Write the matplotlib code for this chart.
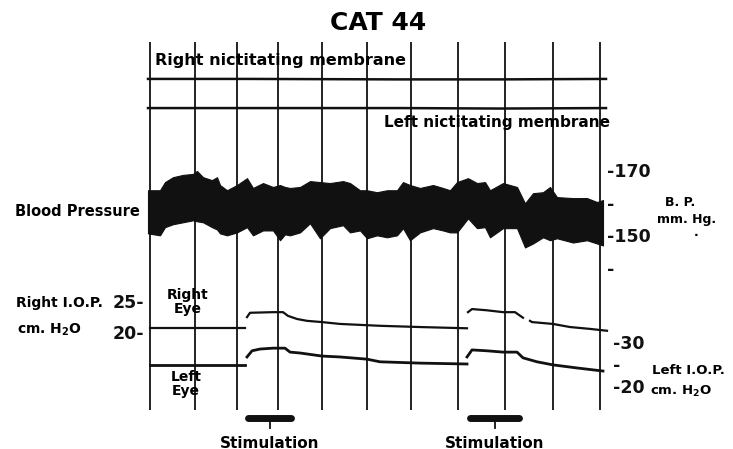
import numpy as np
import matplotlib.pyplot as plt

# chart time is in recorder units (0 = left edge of the record, 450 = right edge)
grid_t = [0, 45, 87, 128, 172, 217, 261, 308, 355, 403, 450]

# nictitating membranes (arbitrary units, flat during the whole record)
nm_t = [-2, 100, 250, 350, 456]
right_nm = [8.1, 8.1, 8.0, 8.0, 8.1]
left_nm = [1.9, 1.9, 1.9, 1.8, 1.9]

# blood pressure envelope, mm Hg
bp_t = [-2, 10, 15, 23, 33, 43, 47, 53, 62, 67, 70, 77, 87, 97, 103, 113, 123, 130,
        135, 140, 150, 160, 170, 180, 193, 200, 210, 217, 227, 237, 247, 253, 260, 270,
        283, 293, 300, 307, 318, 327, 335, 340, 353, 367, 375, 383, 393, 400, 407, 423,
        437, 447, 453]
bp_upper = [163.8, 163.8, 166.3, 167.8, 168.5, 168.8, 169.7, 167.8, 166.9, 167.8, 165.4,
            163.8, 165.4, 167.5, 164.5, 166.0, 164.8, 165.4, 164.8, 164.5, 164.8, 166.6,
            166.3, 166.0, 166.6, 166.0, 163.8, 163.8, 163.2, 163.8, 163.8, 166.3, 165.4,
            164.5, 165.4, 164.5, 163.8, 166.3, 167.5, 166.0, 166.3, 163.8, 166.0, 164.8,
            159.8, 162.9, 163.2, 164.8, 161.7, 161.4, 161.4, 160.2, 160.8]
bp_lower = [150.6, 150.0, 152.5, 153.4, 154.0, 154.6, 154.3, 154.0, 152.5, 151.8, 150.6,
            150.0, 150.9, 152.5, 150.0, 151.5, 151.5, 148.5, 150.3, 150.0, 150.9, 153.7,
            149.1, 152.2, 153.1, 150.9, 151.5, 149.1, 150.0, 149.4, 150.0, 152.2, 148.5,
            150.9, 152.2, 151.5, 150.9, 150.9, 155.2, 152.2, 152.5, 149.4, 152.2, 152.2,
            146.3, 147.5, 149.4, 148.5, 149.1, 147.8, 148.5, 147.5, 146.9]

# right eye I.O.P. (cm H2O, left scale), pieces of record
re_t = [[0, 50, 95],
        [97, 100, 123, 133, 138, 147, 157, 172, 190, 230, 270, 317],
        [318, 322, 337, 353, 365, 373],
        [380, 382, 403, 420, 440, 457]]
re_iop = [[20.6, 20.6, 20.6],
          [22.4, 23.1, 23.2, 23.2, 22.6, 22.1, 21.8, 21.6, 21.3, 21.0, 20.8, 20.6],
          [23.2, 23.7, 23.5, 23.2, 23.2, 22.3],
          [21.8, 21.6, 21.3, 20.8, 20.5, 20.2]]

# left eye I.O.P. (cm H2O, right scale)
le_t = [[0, 50, 95],
        [97, 102, 110, 123, 135, 140, 150, 172, 190, 217, 230, 270, 317],
        [317, 322, 337, 353, 367, 373, 387, 403, 427, 453]]
le_iop = [[24.8, 24.8, 24.8],
          [26.6, 28.0, 28.4, 28.6, 28.6, 27.7, 27.5, 26.8, 26.6, 26.1, 25.5, 25.2, 25.0],
          [26.6, 28.2, 28.0, 27.7, 27.7, 26.4, 25.5, 24.8, 24.1, 23.4]]

# stimulation periods
stim_on = [98, 320]
stim_off = [141, 369]

W, H = 733, 449
ink = '#111111'
plt.rcParams['font.family'] = 'DejaVu Sans'
plt.rcParams['font.weight'] = 'bold'


def rect(x0, y0, x1, y1):
    return [x0 / W, 1 - y1 / H, (x1 - x0) / W, (y1 - y0) / H]


fig = plt.figure(figsize=(W / 100, H / 100), dpi=100)
fig.patch.set_facecolor('white')

# layout canvas in pixel units, x shifted so that record time lines up
ax0 = fig.add_axes([0, 0, 1, 1])
ax0.set_xlim(-150, W - 150)
ax0.set_ylim(H, 0)
ax0.axis('off')

ax0.vlines(grid_t, 42, 410, color=ink, lw=1.3)

for on, off in zip(stim_on, stim_off):
    ax0.plot([on, off], [418, 418], color=ink, lw=5, solid_capstyle='round')
    ax0.plot([(on + off) / 2] * 2, [418, 428], color=ink, lw=1.3)
    ax0.text((on + off) / 2, 443, 'Stimulation', ha='center', va='center', fontsize=11)

ax0.text(228, 23, 'CAT 44', ha='center', va='center', fontsize=18)
ax0.text(5, 60, 'Right nictitating membrane', ha='left', va='center', fontsize=11.5)
ax0.text(460, 122, 'Left nictitating membrane', ha='right', va='center', fontsize=11)
ax0.text(-10, 212, 'Blood Pressure', ha='right', va='center', fontsize=10.5)
ax0.text(530, 203, 'B. P.', ha='center', va='center', fontsize=9)
ax0.text(537, 219, 'mm. Hg.', ha='center', va='center', fontsize=9)
ax0.text(546, 232, '.', ha='center', va='center', fontsize=9)
ax0.text(-47, 303, 'Right I.O.P.', ha='right', va='center', fontsize=10)
ax0.text(-68, 330, r'cm. H$_\mathbf{2}$O', ha='right', va='center', fontsize=10)
ax0.text(38, 302, 'Right\nEye', ha='center', va='center', fontsize=10, linespacing=1.0)
ax0.text(36, 384, 'Left\nEye', ha='center', va='center', fontsize=10, linespacing=1.0)
ax0.text(502, 370, 'Left I.O.P.', ha='left', va='center', fontsize=9.5)
ax0.text(500, 391, r'cm. H$_\mathbf{2}$O', ha='left', va='center', fontsize=9.5)

# nictitating membranes
ax_nm = fig.add_axes(rect(150, 70, 600, 117))
ax_nm.plot(nm_t, right_nm, color=ink, lw=1.8, clip_on=False)
ax_nm.plot(nm_t, left_nm, color=ink, lw=1.8, clip_on=False)
ax_nm.set_xlim(0, 450)
ax_nm.set_ylim(0, 10)
ax_nm.axis('off')

# blood pressure
ax_bp = fig.add_axes(rect(150, 170, 600, 268))
ax_bp.fill_between(bp_t, bp_lower, bp_upper, color=ink, lw=0.8, clip_on=False)
ax_bp.set_xlim(0, 450)
ax_bp.set_ylim(140, 170)
ax_bp.patch.set_alpha(0)
for s in ax_bp.spines.values():
    s.set_visible(False)
ax_bp.set_xticks([])
ax_bp.yaxis.tick_right()
ax_bp.set_yticks([140, 150, 160, 170])
ax_bp.set_yticklabels(['-', '-150', '-', '-170'], fontsize=12.5)
ax_bp.tick_params(axis='y', length=0, pad=5, colors=ink)

# intraocular pressures
ax_re = fig.add_axes(rect(150, 290, 600, 400))
ax_le = ax_re.twinx()
for t, v in zip(re_t, re_iop):
    ax_re.plot(t, v, color=ink, lw=1.6, clip_on=False)
for t, v in zip(le_t, le_iop):
    ax_le.plot(t, v, color=ink, lw=2.0, clip_on=False)
ax_re.set_xlim(0, 450)
ax_re.set_ylim(20 - 68 / 6.2, 20 + 42 / 6.2)
ax_le.set_ylim(20 - 14 / 4.4, 20 + 96 / 4.4)
for a in (ax_re, ax_le):
    a.patch.set_alpha(0)
    for s in a.spines.values():
        s.set_visible(False)
    a.set_xticks([])
ax_re.set_yticks([20, 25])
ax_re.set_yticklabels(['20-', '25-'], fontsize=12.5)
ax_re.tick_params(axis='y', length=0, pad=4, colors=ink)
ax_le.set_yticks([20, 25, 30])
ax_le.set_yticklabels(['-20', '-', '-30'], fontsize=12.5)
ax_le.tick_params(axis='y', length=0, pad=9, colors=ink)

fig.savefig('out.png', dpi=100, facecolor='white')
